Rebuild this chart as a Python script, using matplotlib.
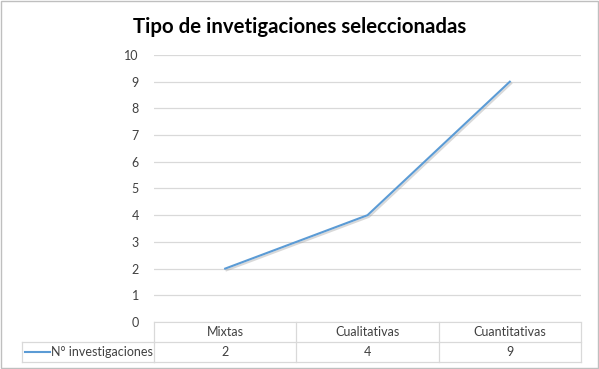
import matplotlib.pyplot as plt
import matplotlib.patheffects as pe
from matplotlib.patches import Rectangle
import numpy as np

# data
categorias = ["Mixtas", "Cualitativas", "Cuantitativas"]
valores = [2, 4, 9]
serie = "N° investigaciones"
titulo = "Tipo de invetigaciones seleccionadas"

plt.rcParams['font.family'] = ['Lato', 'DejaVu Sans']

fig = plt.figure(figsize=(5.99, 3.69), dpi=100)
ax = fig.add_axes([154/599, 47/369, 427/599, 267/369])

x = np.arange(len(categorias))
ax.plot(x, valores, color="#5B9BD5", lw=1.5, zorder=3,
        path_effects=[pe.SimpleLineShadow(offset=(1, -1.2), shadow_color="#A0A0A0", alpha=0.4),
                      pe.Normal()])

ax.set_xlim(-0.5, 2.5)
ax.set_ylim(0, 10)
ax.set_yticks(range(0, 11))
ax.yaxis.grid(True, color="#D9D9D9", lw=0.9)
ax.set_axisbelow(True)
ax.tick_params(axis="y", length=0, labelsize=9, labelcolor="#404040", pad=11)
ax.set_xticks([])
for s in ["top", "right", "left"]:
    ax.spines[s].set_visible(False)
ax.spines["bottom"].set_color("#D9D9D9")

# data table under the axis
row = 20/267
left = (22 - 154) / 427
tr = ax.get_xaxis_transform()
gc = "#D9D9D9"
# horizontal lines
ax.plot([-0.5, 2.5], [-row, -row], transform=tr, color=gc, lw=0.9, clip_on=False)
ax.plot([0, 1], [-2*row, -2*row], transform=ax.transAxes, color=gc, lw=0.9, clip_on=False)
ax.plot([left, 0], [-row, -row], transform=ax.transAxes, color=gc, lw=0.9, clip_on=False)
ax.plot([left, 0], [-2*row, -2*row], transform=ax.transAxes, color=gc, lw=0.9, clip_on=False)
# vertical lines
for xv in [-0.5, 0.5, 1.5, 2.5]:
    ax.plot([xv, xv], [0, -2*row], transform=tr, color=gc, lw=0.9, clip_on=False)
ax.plot([left, left], [-row, -2*row], transform=ax.transAxes, color=gc, lw=0.9, clip_on=False)

for xi, cat, v in zip(x, categorias, valores):
    ax.text(xi, -row/2, cat, transform=tr, ha="center", va="center", fontsize=9, color="#404040")
    ax.text(xi, -1.5*row, str(v), transform=tr, ha="center", va="center", fontsize=9, color="#404040")

# legend key in table
ax.plot([left + 3/427, left + 28/427], [-1.5*row, -1.5*row], transform=ax.transAxes,
        color="#5B9BD5", lw=1.5, clip_on=False)
ax.text(-1.5/427, -1.5*row, serie, transform=ax.transAxes, ha="right", va="center",
        fontsize=9, color="#404040")

fig.text(0.5, 1 - 27/369, titulo, ha="center", va="center", fontsize=14.7, fontweight="bold", color="#000000")

fig.patches.append(Rectangle((0.001, 0.002), 0.997, 0.996, transform=fig.transFigure,
                             fill=False, edgecolor="#BFBFBF", lw=1))

fig.savefig("out.png", dpi=100)
